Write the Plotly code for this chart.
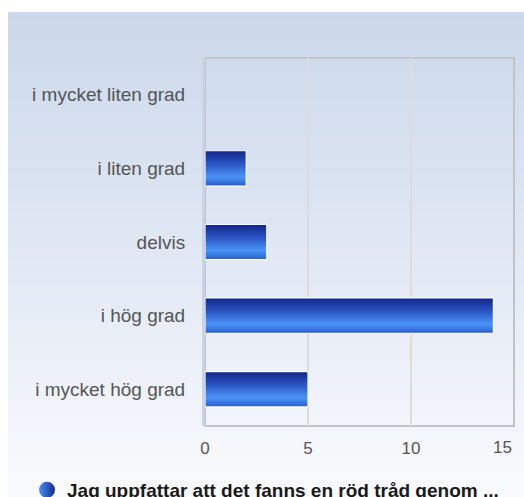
import plotly.graph_objects as go

categories = ["i mycket liten grad", "i liten grad", "delvis", "i hög grad", "i mycket hög grad"]
values = [0, 2, 3, 14, 5]
series_name = "Jag uppfattar att det fanns en röd tråd genom ..."
x_ticks = [0, 5, 10, 15]

W, H = 524, 497
ML, MR, MT, MB = 205, 10, 58, 71
PW, PH = W - ML - MR, H - MT - MB


def xp(px):
    return (px - ML) / PW


def yp(py):
    return (H - MB - py) / PH


def lerp(c1, c2, t):
    a = [int(c1[i:i + 2], 16) for i in (1, 3, 5)]
    b = [int(c2[i:i + 2], 16) for i in (1, 3, 5)]
    return "rgb(%d,%d,%d)" % tuple(round(a[j] + (b[j] - a[j]) * t) for j in range(3))


def grad(stops, t):
    for (t0, c0), (t1, c1) in zip(stops, stops[1:]):
        if t <= t1:
            return lerp(c0, c1, (t - t0) / (t1 - t0) if t1 > t0 else 0)
    return lerp(stops[-1][1], stops[-1][1], 0)


fig = go.Figure()

# bar gradient via stacked stripes
bar_w = 0.48
N = 22
s = bar_w / N
bar_stops = [(0.0, "#15278a"), (0.35, "#2a52c0"), (0.75, "#4b94f6"), (1.0, "#2a64d4")]
for k in range(N):
    fig.add_trace(go.Bar(
        y=categories, x=values, orientation="h",
        width=s * 1.6 if k < N - 1 else s,
        offset=-bar_w / 2 + k * s,
        marker=dict(color=grad(bar_stops, k / (N - 1)), line=dict(width=0)),
        showlegend=False, hoverinfo="skip",
    ))

# white outline
fig.add_trace(go.Bar(
    y=categories, x=[v if v else None for v in values], orientation="h",
    width=bar_w, offset=-bar_w / 2,
    marker=dict(color="rgba(0,0,0,0)", line=dict(width=1.2, color="white")),
    showlegend=False, hoverinfo="skip",
))

# legend entry
fig.add_trace(go.Scatter(
    x=[None], y=[None], mode="markers", name=series_name,
    marker=dict(symbol="circle", size=18, color="#4a90f5",
                gradient=dict(type="horizontal", color="#142a8c"),
                line=dict(width=0)),
))

shapes = []
# background panel gradient
bg_stops = [(0.0, "#cbd8eb"), (0.5, "#e1e8f4"), (1.0, "#f9fafd")]
top_px, bot_px = 12, H
NS = 60
for i in range(NS):
    y0 = top_px + (bot_px - top_px) * i / NS
    y1 = top_px + (bot_px - top_px) * (i + 1) / NS + 1
    shapes.append(dict(type="rect", xref="paper", yref="paper",
                       x0=xp(8), x1=xp(W + 2), y0=yp(min(y1, H + 2)), y1=yp(y0),
                       fillcolor=grad(bg_stops, i / (NS - 1)), line=dict(width=0),
                       layer="below"))
# plot border
shapes.append(dict(type="rect", xref="paper", yref="paper", x0=0, x1=1, y0=0, y1=1,
                   line=dict(color="#c3c3c3", width=2), fillcolor="rgba(0,0,0,0)",
                   layer="below"))

tick_text = [str(t) for t in x_ticks]

fig.update_layout(
    width=W, height=H,
    margin=dict(l=ML, r=MR, t=MT, b=MB, autoexpand=False),
    paper_bgcolor="white", plot_bgcolor="rgba(0,0,0,0)",
    barmode="overlay",
    font=dict(family="Liberation Sans, Arial, sans-serif", size=19, color="#555555"),
    shapes=shapes,
    showlegend=True,
    legend=dict(orientation="h", xref="container", yref="container",
                x=27 / W, xanchor="left", y=1 - 490 / H, yanchor="middle",
                font=dict(size=19, color="#1a1a1a", weight="bold"),
                bgcolor="rgba(0,0,0,0)", itemsizing="trace"),
    xaxis=dict(range=[0, 15], tickvals=x_ticks[:-1], ticktext=tick_text[:-1],
               showgrid=True,
               gridcolor="#dcdcdc", gridwidth=2, zeroline=False,
               showline=False, ticks="", ticklabelstandoff=10,
               tickfont=dict(size=17, color="#555555"), fixedrange=True),
    yaxis=dict(categoryorder="array", categoryarray=categories, autorange="reversed",
               showgrid=False, zeroline=False, showline=True,
               linecolor="#c9d3e8", linewidth=3, ticks="",
               ticklabelstandoff=13,
               tickfont=dict(size=19, color="#555555"), fixedrange=True),
    annotations=[dict(x=x_ticks[-1], y=0, xref="x", yref="paper",
                      text=tick_text[-1], showarrow=False,
                      xanchor="right", yanchor="top", yshift=-10,
                      font=dict(size=17, color="#555555"))],
)

fig.write_html(
    "out.html",
    config={"displayModeBar": False},
    post_script="document.body.style.margin='0';document.body.style.overflow='hidden';",
)
